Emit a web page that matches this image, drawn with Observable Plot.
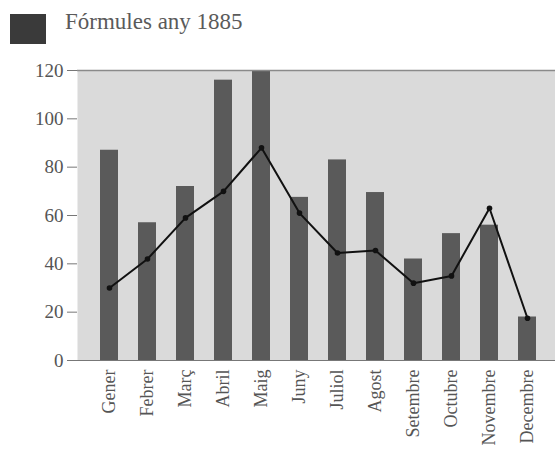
<!DOCTYPE html>
<html>
<head>
<meta charset="utf-8">
<script src="https://cdn.jsdelivr.net/npm/d3@7"></script>
<script src="https://cdn.jsdelivr.net/npm/@observablehq/plot@0.6"></script>
<style>
  html, body { margin: 0; padding: 0; background: #fff; }
  #legend { position: relative; height: 56px; font-family: "Liberation Serif", "DejaVu Serif", serif; }
  #legend .sw { position: absolute; left: 10px; top: 14px; width: 36px; height: 30px; background: #3a3a3a; }
  #legend .lb { position: absolute; left: 65px; top: 9px; font-size: 23px; color: #5a5a5a; }
</style>
</head>
<body>
<div id="legend"><div class="sw"></div><div class="lb">Fórmules any 1885</div></div>
<div id="chart"></div>
<script>
const months = ["Gener","Febrer","Març","Abril","Maig","Juny","Juliol","Agost","Setembre","Octubre","Novembre","Decembre"];
const barValues = [87, 57, 72, 116, 120, 67.5, 83, 69.5, 42, 52.5, 56, 18];
const lineValues = [30, 42, 59, 70, 88, 61, 44.5, 45.5, 32, 35, 63, 17.5];
const yTicks = [0, 20, 40, 60, 80, 100, 120];

const data = months.map((m, i) => ({month: m, bar: barValues[i], line: lineValues[i]}));

const chart = Plot.plot({
  width: 555,
  height: 396,
  marginLeft: 77,
  marginRight: 0,
  marginTop: 14,
  marginBottom: 92,
  style: {fontFamily: "'Liberation Serif', 'DejaVu Serif', serif", background: "#fff", color: "#555"},
  x: {domain: months, paddingInner: 0.52, paddingOuter: 0.26, insetLeft: 8, insetRight: 4, label: null},
  y: {domain: [0, 120], label: null},
  marks: [
    Plot.frame({fill: "#dadada", stroke: null}),
    Plot.barY(data, {x: "month", y: "bar", fill: "#5a5a5a"}),
    Plot.ruleY([120], {stroke: "#8a8a8a", strokeWidth: 1.5}),
    Plot.ruleY([0], {stroke: "#777", strokeWidth: 1.2}),
    Plot.line(data, {x: "month", y: "line", stroke: "#111", strokeWidth: 2}),
    Plot.dot(data, {x: "month", y: "line", r: 2.8, fill: "#111"}),
    Plot.axisY({ticks: yTicks, tickSize: 10, tickPadding: 4, fontSize: 19, stroke: "#777", fill: "#555"}),
    Plot.axisX({tickSize: 0, tickRotate: -90, tickPadding: 9, fontSize: 18, fill: "#555"})
  ]
});
document.getElementById("chart").appendChild(chart);
</script>
</body>
</html>
